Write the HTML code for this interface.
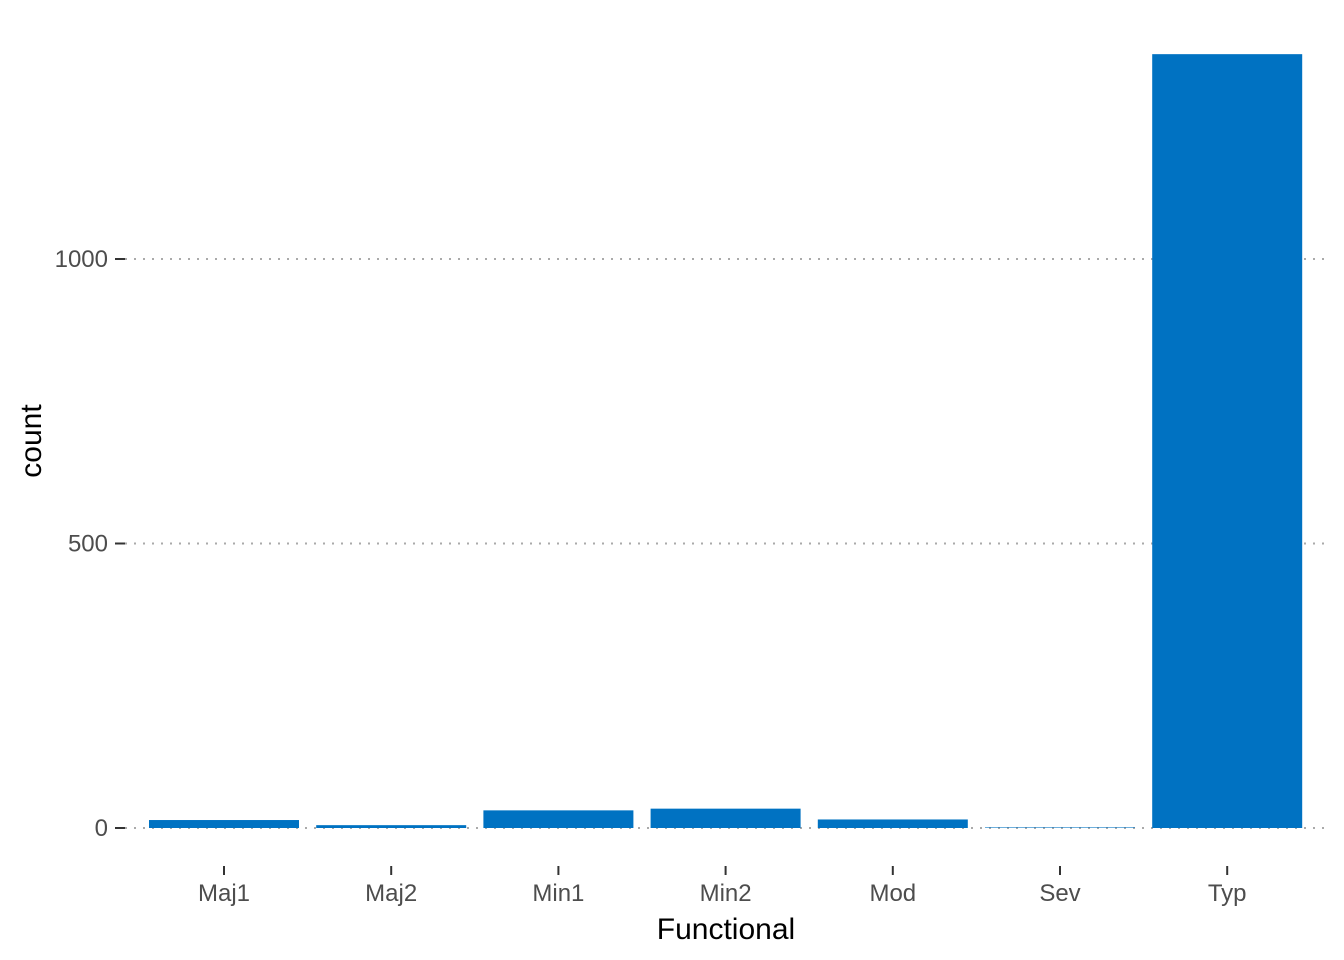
<!DOCTYPE html>
<html><head><meta charset="utf-8"><style>
body{margin:0;background:#fff;}
svg{display:block;font-family:"Liberation Sans",sans-serif;}
</style></head><body>
<svg id="chart" width="1344" height="960">
<g id="grid"></g>
<g id="bars"></g>
<g id="yaxis"></g>
<g id="xaxis"></g>
<text x="726" y="939" text-anchor="middle" font-size="30" fill="#000">Functional</text>
<text transform="translate(41,441) rotate(-90)" text-anchor="middle" font-size="30" fill="#000">count</text>
</svg>
<script>
const categories=["Maj1","Maj2","Min1","Min2","Mod","Sev","Typ"];
const counts=[14,5,31,34,15,1,1360];
const yTicks=[0,500,1000];
const NS="http://www.w3.org/2000/svg";
const x0=224,step=167.2,bw=150;
function xPos(i){return x0+i*step;}
function yPos(v){return 828-v*0.569;}
function mk(tag,attrs,parent){const e=document.createElementNS(NS,tag);for(const k in attrs)e.setAttribute(k,attrs[k]);parent.appendChild(e);return e;}
const grid=document.getElementById('grid'),bars=document.getElementById('bars'),ya=document.getElementById('yaxis'),xa=document.getElementById('xaxis');
yTicks.forEach(t=>{
  const y=yPos(t);
  const g=mk('line',{x1:125,x2:1330,y1:y,y2:y,stroke:'#aaa','stroke-width':2,'stroke-dasharray':'2,7'},grid);
  
  
  const tk=mk('line',{x1:115,x2:125,y1:y,y2:y,stroke:'#333','stroke-width':2},ya);
  
  
  const tx=mk('text',{x:108,y:y+8,'text-anchor':'end','font-size':24,fill:'#4d4d4d'},ya);
  tx.textContent=t;
  
  
});
categories.forEach((c,i)=>{
  const x=xPos(i),y=yPos(counts[i]);
  const r=mk('rect',{x:x-bw/2,y:y,width:bw,height:828-y,fill:'#0072c2'},bars);
  
  
  const tk=mk('line',{x1:x,x2:x,y1:866,y2:875,stroke:'#333','stroke-width':2},xa);
  
  
  const tx=mk('text',{x:x,y:901,'text-anchor':'middle','font-size':24,fill:'#4d4d4d'},xa);
  tx.textContent=c;
  
  
});
</script>
</body></html>
